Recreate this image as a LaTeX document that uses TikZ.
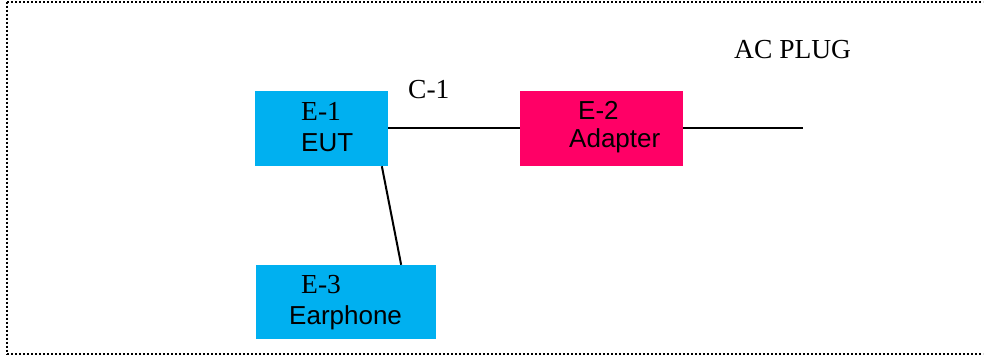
\documentclass[tikz,border=0pt]{standalone}
\usepackage{fontspec}
\setmainfont{Liberation Serif}
\setsansfont{Liberation Sans}
\usetikzlibrary{positioning}
\usepackage{xcolor}
\definecolor{eutblue}{RGB}{0,176,240}
\definecolor{adapterpink}{RGB}{255,0,102}

\begin{document}
\begin{tikzpicture}[x=1pt,y=-1pt]
\tikzset{box/.style = {shape=rectangle,inner sep=0pt,minimum height=75pt,minimum width=#1}}
\tikzset{tag/.style = {anchor=base west,inner sep=0pt,font=\fontsize{27.5}{30}\selectfont\rmfamily}}
\tikzset{sanstag/.style = {tag,font=\fontsize{26}{30}\selectfont\sffamily}}
\tikzset{wire/.style = {-,line width=2pt}}
\tikzset{frame/.style = {line width=2pt,dash pattern=on 2pt off 2pt}}
\useasboundingbox (0,0) rectangle (984,356);
\draw[frame] (7,1.5) -- (983,1.5);
\draw[frame] (7,1.5) -- (7,354);
\draw[frame] (7,354) -- (983,354);

% units
\node[box=133pt,fill=eutblue] (e1) at (321.5,128.5) {};
\node[box=163pt,fill=adapterpink] (e2) at (601.5,128.5) {};
\node[box=180pt,minimum height=74pt,fill=eutblue] (e3) at (346,302) {};
\coordinate (plug) at (803,127.5);

% labels
\node[tag] (e1id) at (301,120) {E-1};
\node[sanstag] (e1name) at (301,151) {EUT};
\node[sanstag] (e2id) at (578,119) {E-2};
\node[sanstag] (e2name) at (569,147) {Adapter};
\node[tag] (e3id) at (301,293) {E-3};
\node[sanstag] (e3name) at (289,324) {Earphone};
\node[tag] (c1) at (408,98) {C-1};
\node[tag] (acplug) at (734,58) {AC PLUG};

%edges
\draw[wire] (e1.east |- plug) -- (e2.west |- plug);
\draw[wire] (e2.east |- plug) -- (plug);
\draw[wire] (e1.-32.7) -- (e3.34.4);
\end{tikzpicture}
\end{document}
